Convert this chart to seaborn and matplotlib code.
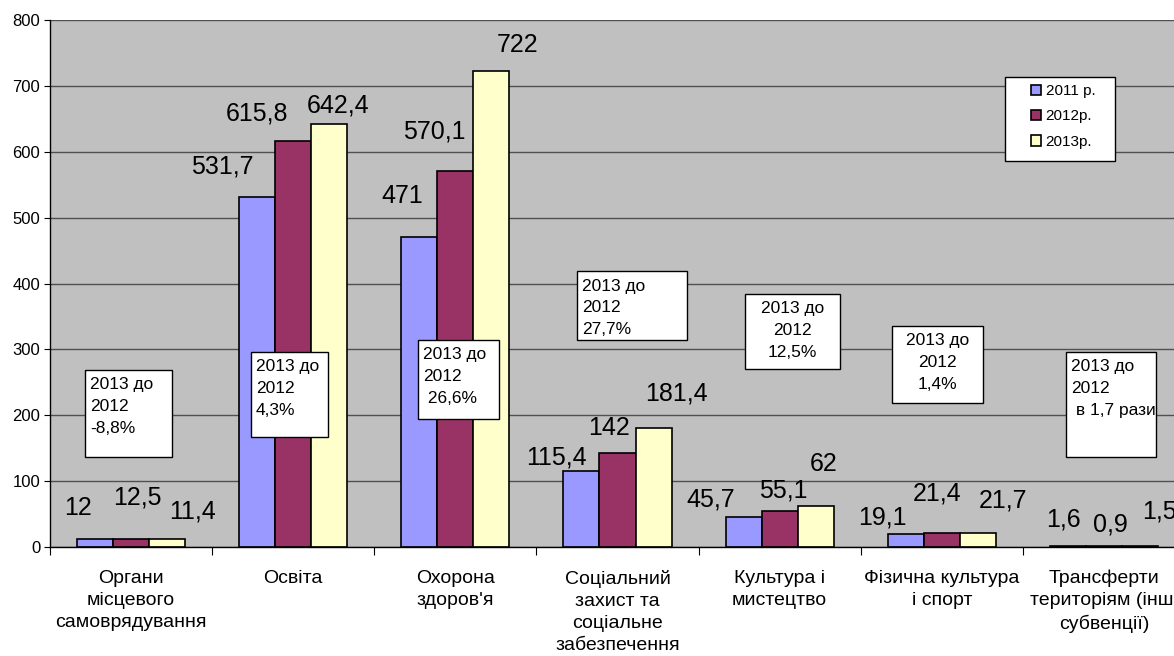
import numpy as np
import pandas as pd
import matplotlib
matplotlib.use('Agg')
import matplotlib.pyplot as plt
from matplotlib.patches import Rectangle
import seaborn as sns

categories = ['Органи\nмісцевого\nсамоврядування', 'Освіта', "Охорона\nздоров'я",
              'Соціальний\nзахист та\nсоціальне\nзабезпечення', 'Культура і\nмистецтво',
              'Фізична культура\nі спорт', 'Трансферти\nтериторіям (інші\nсубвенції)']
years = ['2011 р.', '2012р.', '2013р.']
values_2011 = [12, 531.7, 471, 115.4, 45.7, 19.1, 1.6]
values_2012 = [12.5, 615.8, 570.1, 142, 55.1, 21.4, 0.9]
values_2013 = [11.4, 642.4, 722, 181.4, 62, 21.7, 1.5]
colors = ['#9999FF', '#993366', '#FFFFCC']

notes = ['2013 до\n2012\n-8,8%', '2013 до\n2012\n4,3%', '2013 до\n2012\n 26,6%',
         '2013 до\n2012\n27,7%', '2013 до\n2012\n12,5%', '2013 до\n2012\n1,4%',
         '2013 до\n2012\n в 1,7 рази']

# label offsets from bar top (pixels, dx, dy up) - labels were moved by hand in the original
offsets_2011 = [(-17, 29), (-35, 28), (-17, 39), (-25, 11), (-33, 15), (-23, 15), (-4, 24)]
offsets_2012 = [(6, 39), (-36, 26), (-21, 38), (-8, 23), (4, 18), (-5, 37), (6, 20)]
offsets_2013 = [(25, 26), (9, 16), (26, 24), (23, 32), (8, 40), (25, 30), (19, 33)]

# note boxes in figure pixels: left, top, right, bottom, alignment
note_boxes = [(85, 370, 172, 457, 'left'), (251, 352, 328, 437, 'left'),
              (418, 340, 499, 419, 'left'), (577, 271, 687, 340, 'left'),
              (745, 294, 840, 369, 'center'), (892, 326, 983, 403, 'center'),
              (1066, 352, 1156, 457, 'left')]

W, H = 1174, 656

df = pd.DataFrame({
    'cat': categories * 3,
    'year': np.repeat(years, len(categories)),
    'value': values_2011 + values_2012 + values_2013,
})

plt.rcParams['font.family'] = ['Liberation Sans', 'DejaVu Sans']

fig = plt.figure(figsize=(W / 100, H / 100), dpi=100)
fig.patch.set_facecolor('white')
ax = fig.add_axes([50 / W, 1 - 547 / H, 1135 / W, 527 / H])

sns.barplot(data=df, x='cat', y='value', hue='year', palette=colors, width=0.667,
            saturation=1, edgecolor='black', linewidth=1.2, errorbar=None, ax=ax)

ax.set_facecolor('#C0C0C0')
ax.set_xlim(-0.5, 6.5)
ax.set_ylim(0, 800)
ax.set_xlabel('')
ax.set_ylabel('')
ax.set_axisbelow(True)
ax.yaxis.grid(True, color='#505050', linewidth=1)
ax.xaxis.grid(False)
for s in ['top', 'right']:
    ax.spines[s].set_visible(False)
for s in ['left', 'bottom']:
    ax.spines[s].set_color('black')
    ax.spines[s].set_linewidth(1)

ax.set_yticks(range(0, 801, 100))
ax.tick_params(axis='y', length=4, labelsize=12, pad=3, color='black')
ax.set_xticks(np.arange(-0.5, 7, 1))
ax.set_xticklabels([])
ax.set_xticks(np.arange(len(categories)), minor=True)
ax.set_xticklabels(categories, minor=True, fontsize=14, linespacing=1.38)
ax.tick_params(axis='x', which='major', length=6, color='black')
ax.tick_params(axis='x', which='minor', length=0, pad=16.5)

# value labels
all_offsets = [offsets_2011, offsets_2012, offsets_2013]
for cont, offs in zip(ax.containers, all_offsets):
    for bar, (dx, dy) in zip(cont, offs):
        v = bar.get_height()
        lab = f'{v:g}'.replace('.', ',')
        ax.annotate(lab, (bar.get_x() + bar.get_width() / 2, v),
                    xytext=(dx * 0.72, (dy + 2) * 0.72), textcoords='offset points',
                    ha='center', va='center', fontsize=18, color='black')

# note boxes
for txt, (l, t, r, b, al) in zip(notes, note_boxes):
    fig.patches.append(Rectangle((l / W, 1 - b / H), (r - l) / W, (b - t) / H,
                                 transform=fig.transFigure, facecolor='white',
                                 edgecolor='black', linewidth=1, zorder=5))
    x = (l + 5) if al == 'left' else (l + r) / 2
    for i, line in enumerate(txt.split('\n')):
        yc = t + 16 + i * 21.7 - 1
        fig.text(x / W, 1 - yc / H, line, ha=al, va='center', fontsize=12.5, zorder=6)

# legend
ax.get_legend().remove()
fig.patches.append(Rectangle((1005 / W, 1 - 161 / H), 110 / W, 84 / H,
                             transform=fig.transFigure, facecolor='white',
                             edgecolor='black', linewidth=1, zorder=5))
handles = [Rectangle((0, 0), 1, 1, facecolor=c, edgecolor='black', linewidth=1.2) for c in colors]
leg = fig.legend(handles, years, loc='upper left', bbox_to_anchor=(1031 / W, 1 - 84 / H),
                 frameon=False, fontsize=11, handlelength=0.65, handleheight=0.65,
                 handletextpad=0.3, labelspacing=0.75, borderpad=0, borderaxespad=0)
leg.set_zorder(7)

fig.savefig('out.png', dpi=100)
